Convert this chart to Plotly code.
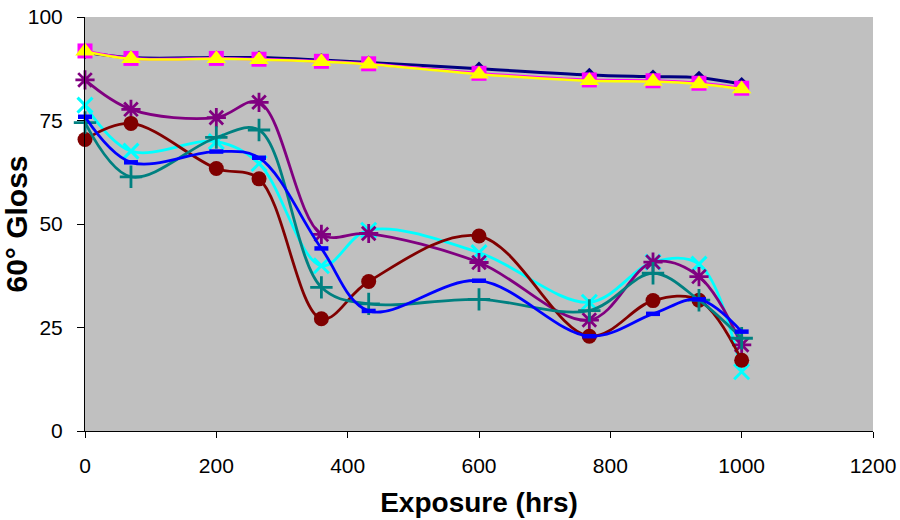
import plotly.graph_objects as go

hours = [0, 70, 200, 265, 360, 432, 600, 768, 865, 935, 1000]

navy_diamond = [91.5, 90.2, 90.2, 90.2, 89.6, 89.0, 87.5, 86.0, 85.6, 85.3, 83.8]
magenta_square = [91.8, 90.0, 90.0, 89.8, 89.3, 88.7, 86.4, 84.8, 84.6, 84.0, 82.8]
yellow_triangle = [91.7, 89.9, 89.9, 89.7, 89.2, 88.6, 86.2, 84.6, 84.4, 83.8, 82.6]
cyan_x = [78.7, 67.6, 69.9, 64.6, 39.9, 48.5, 43.1, 31.1, 40.8, 40.3, 14.3]
purple_star = [84.8, 77.7, 75.7, 79.4, 47.5, 47.7, 40.7, 26.8, 40.8, 37.3, 20.8]
maroon_circle = [70.4, 74.3, 63.4, 60.9, 27.1, 36.1, 47.1, 22.9, 31.5, 31.6, 17.1]
teal_plus = [74.5, 61.4, 70.9, 72.7, 34.7, 30.7, 31.8, 29.1, 38.1, 31.6, 22.4]
blue_dash = [75.9, 64.9, 67.5, 66.0, 44.1, 29.0, 36.3, 22.9, 28.3, 31.8, 24.0]

y_ticks = [0, 25, 50, 75, 100]
x_ticks = [0, 200, 400, 600, 800, 1000, 1200]

fig = go.Figure()

def add(y, color, symbol, size, lw=2.8, mline=None):
    marker = dict(symbol=symbol, size=size, color=color)
    if mline:
        marker["line"] = dict(color=mline[0], width=mline[1])
    fig.add_trace(go.Scatter(
        x=hours, y=y, mode="lines+markers",
        line=dict(color=color, width=lw, shape="spline", smoothing=1),
        marker=marker, showlegend=False, cliponaxis=False))

add(navy_diamond, "#000080", "diamond", 11, lw=3)
add(magenta_square, "#FF00FF", "square", 15)
add(yellow_triangle, "#FFFF00", "triangle-up", 17, lw=2.5)
add(cyan_x, "#00FFFF", "x-thin-open", 15, mline=("#00FFFF", 3))
add(purple_star, "#800080", "asterisk-open", 16, mline=("#800080", 2.8))
add(maroon_circle, "#800000", "circle", 15)
add(teal_plus, "#008080", "cross-thin-open", 16, mline=("#008080", 2.8))
add(blue_dash, "#0000FF", "line-ew-open", 10, mline=("#0000FF", 4.5))

fig.update_layout(
    width=900, height=520,
    margin=dict(l=85, r=27, t=17, b=89, autoexpand=False),
    paper_bgcolor="white",
    plot_bgcolor="#C0C0C0",
    font=dict(family="Arial, Liberation Sans, sans-serif", color="black", size=21),
)
fig.update_xaxes(
    range=[0, 1200], tickvals=x_ticks, ticktext=[str(v) for v in x_ticks],
    showgrid=False, zeroline=False, showline=True, linecolor="black", linewidth=1,
    ticks="outside", ticklen=6, tickcolor="black", ticklabelstandoff=10,
    automargin=False,
    title=dict(text="<b>Exposure (hrs)</b>", font=dict(size=28), standoff=16),
)
fig.update_yaxes(
    range=[0, 100], tickvals=y_ticks, ticktext=[str(v) for v in y_ticks],
    showgrid=False, zeroline=False, showline=True, linecolor="black", linewidth=1,
    ticks="outside", ticklen=7, tickcolor="black", ticklabelstandoff=10,
    automargin=False,
    title=dict(text="<b>60° Gloss</b>", font=dict(size=30), standoff=0),
)

fig.write_html(
    "out.html",
    config={"displayModeBar": False},
    post_script="document.body.style.margin='0';document.body.style.overflow='hidden';",
)
